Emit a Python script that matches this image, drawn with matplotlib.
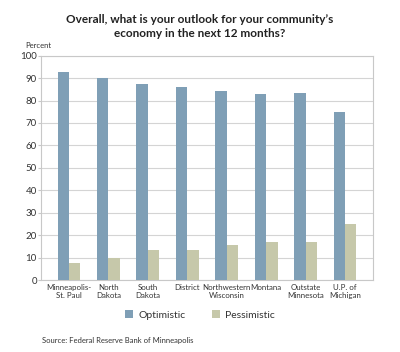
import matplotlib.pyplot as plt
import numpy as np

# survey answers, percent
regions = ["Minneapolis-\nSt. Paul", "North\nDakota", "South\nDakota", "District",
           "Northwestern\nWisconsin", "Montana", "Outstate\nMinnesota", "U.P. of\nMichigan"]
optimistic = [92.6, 89.9, 87.5, 86.2, 84.1, 82.9, 83.2, 75.0]
pessimistic = [7.7, 9.8, 13.2, 13.2, 15.5, 16.9, 16.9, 25.0]

blue = "#7f9fb6"
khaki = "#c6c8aa"
txt = "#333333"

plt.rcParams['font.family'] = ['Lato', 'DejaVu Sans']

fig = plt.figure(figsize=(4, 3.52), dpi=100)
ax = fig.add_axes([0.1025, 0.2045, 0.83, 0.6373])

x = np.arange(len(regions))
w = 0.29
ax.bar(x - w/2, optimistic, w, color=blue, label="Optimistic", zorder=3)
ax.bar(x + w/2, pessimistic, w, color=khaki, label="Pessimistic", zorder=3)

ax.set_xlim(-0.71, len(regions) - 0.29)
ax.set_ylim(0, 100)
ax.set_yticks(range(0, 101, 10))
ax.yaxis.grid(True, color="#d4d4d4", linewidth=0.8, zorder=0)
for s in ax.spines.values():
    s.set_color("#c8c8c8")
    s.set_linewidth(0.8)
ax.tick_params(axis="y", length=2, color="#c8c8c8", labelsize=7, labelcolor=txt, pad=1)
ax.tick_params(axis="x", length=0, labelsize=5.7, labelcolor=txt, pad=3)
ax.set_xticks(x)
ax.set_xticklabels(regions, linespacing=1.2)

fig.text(0.5, 0.925, "Overall, what is your outlook for your community\u2019s\neconomy in the next 12 months?",
         ha="center", va="center", fontsize=8.5, fontweight="bold", color="#222222", linespacing=1.25)
fig.text(0.0625, 0.872, "Percent", fontsize=5.5, color=txt, va="center")

fig.legend(loc="center", bbox_to_anchor=(0.5, 0.105), ncol=2, frameon=False,
           fontsize=7.5, handlelength=0.8, handleheight=0.8, columnspacing=2.5,
           handletextpad=0.5, labelcolor=txt)

fig.text(0.105, 0.032, "Source: Federal Reserve Bank of Minneapolis", fontsize=5.5, color=txt, va="center")

plt.savefig("out.png", dpi=100)
